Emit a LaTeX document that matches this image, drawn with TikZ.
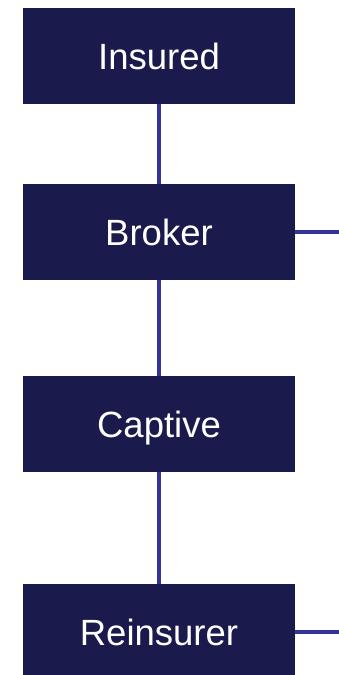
\documentclass[tikz,border=0pt]{standalone}
\usepackage{fontspec}
\setmainfont{Liberation Sans}
\definecolor{navy}{RGB}{27,26,77}
\definecolor{linkblue}{RGB}{51,51,153}
\begin{document}
\begin{tikzpicture}[
  x=1pt, y=-1pt,
  party/.style={fill=navy, text=white, minimum width=272pt, minimum height=96pt,
    inner sep=0pt, text height=26pt, text depth=0pt,
    font=\fontsize{36.5}{40}\selectfont},
  link/.style={draw=linkblue, line width=4pt}]
\useasboundingbox (0,0) rectangle (339,675);
\foreach \name/\y/\txt in {insured/56/Insured, broker/232/Broker,
    captive/424/Captive, reinsurer/632/Reinsurer}
  \node [party] (\name) at (159,\y) {\txt};
\coordinate (brokerout) at (339,232);
\coordinate (reinsurerout) at (339,632);
\draw [link] (insured) -- (broker);
\draw [link] (broker) -- (captive);
\draw [link] (captive) -- (reinsurer);
\draw [link] (broker.east) -- (brokerout);
\draw [link] (reinsurer.east) -- (reinsurerout);
\end{tikzpicture}
\end{document}
